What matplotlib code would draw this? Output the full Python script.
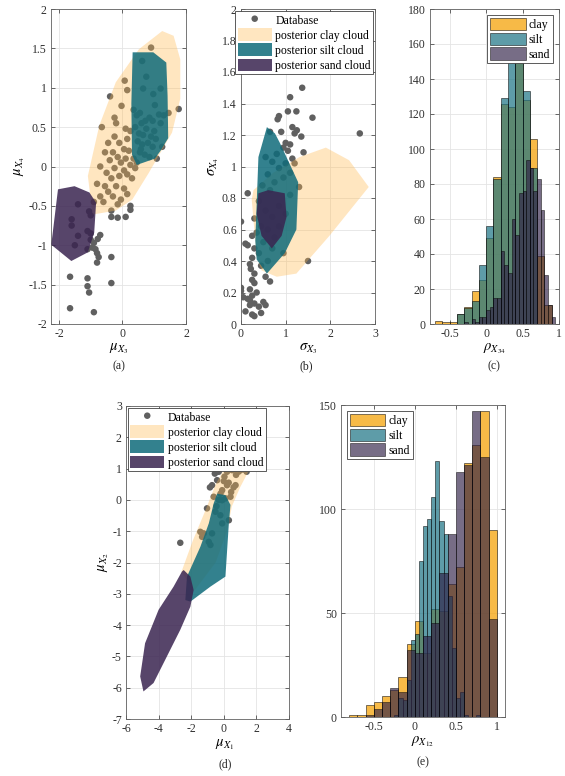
import numpy as np
import matplotlib
matplotlib.use('Agg')
import matplotlib.pyplot as plt

plt.rcParams['font.family'] = 'serif'
plt.rcParams['font.serif'] = ['Liberation Serif', 'DejaVu Serif']
plt.rcParams['mathtext.fontset'] = 'stix'
plt.rcParams['font.size'] = 8

# ---- panel (a): mu_X3 vs mu_X4 ----
a_db_x = [0.90, 0.62, 0.75, 0.65, 1.20, 0.97, 1.02, 0.35, 0.55, 0.45, 1.15, 1.30, 0.85, 0.95, 1.20,
          0.60, 0.40, 0.75, 0.52, 0.65, 0.90, 1.05, 0.48, 0.62, 0.80, 0.95, 1.25, 0.55, 0.70, 0.85,
          1.08, 0.45, 1.00, 0.58, 0.72, 1.77, 1.45,
          0.07, 0.15, -0.39, -0.03, -0.25, -0.65, -0.20, 0.10, 0.25, -0.25, 0.15, -0.10, 0.05, -0.30,
          0.20, -0.55, -0.15, 0.10, -0.40, -0.05, 0.25, -0.70, -0.25, 0.05, -0.50, 0.15, -0.10, -0.35,
          0.30, -0.80, -0.55, -0.20, 0.05, -0.45, 0.15, -0.70, -0.30, -0.05, -0.60, -0.15, -0.90, 0.40,
          0.35, -0.45,
          -0.35, -0.35, -0.15, 0.10, 0.25, 0.25, -1.40, -1.05, -1.00, -1.60, -1.60, -1.10, -1.00, -1.40,
          -0.70, -0.78, -1.00, -0.90, -1.50, -0.95, -0.85, -1.10, -0.80, -0.75, -0.35, -0.80, -1.65,
          -1.10, -1.10, -1.05, -0.35, -1.65, -0.90]
a_db_y = [1.51, 1.34, 1.14, 0.99, 0.99, 0.92, 0.78, 0.72, 0.68, 0.65, 0.66, 0.65, 0.62, 0.58, 0.55,
          0.55, 0.50, 0.48, 0.42, 0.40, 0.38, 0.35, 0.32, 0.28, 0.30, 0.25, 0.25, 0.18, 0.15, 0.12,
          0.10, 0.05, 0.45, 0.22, 0.58, 0.73, 0.68,
          1.09, 0.97, 0.89, 0.77, 0.62, 0.50, 0.55, 0.48, 0.45, 0.38, 0.35, 0.30, 0.22, 0.18,
          0.20, 0.18, 0.12, 0.10, 0.08, 0.05, 0.02, 0.00, -0.02, -0.05, -0.08, -0.10, -0.12, -0.15,
          -0.15, -0.22, -0.25, -0.25, -0.28, -0.32, -0.35, -0.38, -0.38, -0.42, -0.45, -0.48, -0.45, -0.02,
          0.10, 0.30,
          -0.56, -0.64, -0.65, -0.64, -0.55, -0.50, -0.48, -0.57, -0.62, -0.67, -0.75, -0.82, -0.85, -0.88,
          -0.87, -0.92, -0.93, -0.97, -1.00, -1.03, -1.05, -1.05, -1.10, -1.15, -1.15, -1.22, -1.40,
          -1.42, -1.52, -1.60, -1.48, -1.80, -1.85]
a_clay = [(-0.94, -0.61), (-1.09, -0.12), (-0.73, 0.52), (-0.21, 1.07), (0.52, 1.49), (1.25, 1.72),
          (1.61, 1.66), (1.82, 1.36), (1.82, 0.86), (1.56, 0.43), (0.83, -0.08), (0.31, -0.42), (-0.21, -0.56)]
a_silt = [(0.32, 1.45), (0.97, 1.45), (1.38, 1.32), (1.42, 0.90), (1.44, 0.36), (1.20, 0.20),
          (1.02, 0.10), (0.45, 0.02), (0.30, 0.15), (0.28, 0.80)]
a_sand = [(-2.03, -0.29), (-1.51, -0.25), (-1.04, -0.33), (-0.83, -0.46), (-0.89, -0.84), (-1.09, -1.09),
          (-1.61, -1.20), (-2.19, -1.01), (-2.24, -0.99)]

# ---- panel (b): sigma_X3 vs sigma_X4 ----
b_db_x = [1.37, 1.10, 1.24, 0.85, 0.82, 1.60, 2.66, 0.65, 1.15, 1.25, 1.35, 1.20, 0.90, 1.00, 1.10,
          0.95, 1.05, 1.40, 0.80, 1.15, 0.55, 0.70, 1.00, 1.20, 0.85, 1.10, 0.60, 0.95, 1.30, 0.75,
          0.48, 0.15, 0.65, 1.10, 0.40, 0.85, 0.55, 1.00, 0.70, 0.30, 0.45, 0.85, 0.00, 0.60, 0.35,
          0.75, 0.25, 0.50, 0.10, 0.15, 0.30, 0.70, 0.95, 0.40, 1.50, 0.25, 0.20, 0.60, 0.45, 0.22,
          0.30, 0.55, 0.25, 0.30, 0.65, 0.20, 0.00, 0.00, 0.05, 0.15, 0.25, 0.20, 0.30, 0.40, 0.50,
          0.55, 0.10, 0.25, 0.30, 0.45, 0.20, 0.35, 1.05]
b_db_y = [1.50, 1.44, 1.35, 1.32, 1.30, 1.31, 1.21, 1.22, 1.25, 1.23, 1.19, 1.21, 1.22, 1.15, 1.14,
          1.12, 1.10, 1.09, 1.08, 1.05, 1.06, 1.03, 1.02, 1.02, 0.99, 0.96, 0.95, 0.93, 0.87, 0.90,
          0.88, 0.83, 0.85, 0.82, 0.78, 0.75, 0.72, 0.70, 0.68, 0.67, 0.62, 0.62, 0.65, 0.60, 0.58,
          0.55, 0.56, 0.52, 0.51, 0.50, 0.48, 0.48, 0.45, 0.45, 0.40, 0.42, 0.38, 0.40, 0.37, 0.35,
          0.32, 0.30, 0.28, 0.26, 0.27, 0.22, 0.23, 0.21, 0.17, 0.16, 0.18, 0.15, 0.13, 0.11, 0.14,
          0.12, 0.08, 0.06, 0.05, 0.07, 0.12, 0.20, 1.35]
b_clay = [(0.24, 0.79), (0.35, 0.43), (0.46, 0.34), (0.80, 0.30), (1.24, 0.32), (1.98, 0.56), (2.86, 0.87),
          (2.42, 1.04), (1.90, 1.12), (1.31, 1.06), (0.72, 0.96), (0.28, 0.85)]
b_silt = [(0.58, 1.25), (0.76, 1.21), (0.87, 1.15), (1.28, 0.90), (1.24, 0.60), (0.98, 0.45), (0.58, 0.32),
          (0.35, 0.41), (0.32, 0.53), (0.39, 1.06)]
b_sand = [(0.39, 0.83), (0.61, 0.85), (0.98, 0.83), (1.02, 0.68), (0.91, 0.56), (0.69, 0.48), (0.46, 0.56),
          (0.35, 0.70)]

# ---- panel (c): histogram of rho_X34 ----
c_wide_edges = [-0.7, -0.6, -0.5, -0.4, -0.3, -0.2, -0.1, 0.0, 0.1, 0.2, 0.3, 0.4, 0.5, 0.6, 0.7, 0.8, 0.9]
c_clay = [2, 1, 1, 6, 10, 19, 25, 49, 84, 126, 124, 170, 128, 106, 39, 11]
c_silt = [0, 0, 0, 6, 9, 13, 34, 56, 83, 129, 152, 160, 133, 89, 0, 0]
c_sand_start, c_sand_step = -0.3, 0.05
c_sand = [1, 0, 3, 1, 4, 4, 8, 10, 15, 15, 42, 34, 29, 60, 51, 75, 76, 94, 89, 76, 83, 65, 28, 11, 4]

# ---- panel (d): mu_X1 vs mu_X2 ----
d_db_x = [2.40, -2.67, -0.55, -0.31, -0.72, -0.41, 0.04, 0.20, -0.10, -0.62, -0.10, -1.03, -0.51, -0.21,
          0.31, -0.10, -1.44, -0.72, -0.92, -0.82, 1.03, 1.33, 0.51, 0.72, 0.41, -1.23, -1.33, 0.30,
          0.60, -0.20, 0.10, 0.90, 1.20, 1.40, -0.30, 0.00, -0.15, 0.20, -0.45, 0.45, 0.75, -0.85]
d_db_y = [1.63, -1.37, 0.84, 0.90, 0.47, 0.63, 0.74, 0.47, 0.31, 0.10, -0.01, -0.27, -0.38, -0.49,
          -0.65, -0.75, -1.02, -1.07, -1.34, -1.44, 0.95, 0.95, 0.95, 0.47, 0.10, -1.07, -1.18, 0.55,
          0.40, 0.20, 0.05, 0.90, 1.00, 0.90, 0.00, 0.60, 1.20, 0.90, -0.20, 0.25, 0.80, 0.40]
d_clay = [(-2.6, -2.3), (-1.9, -1.3), (-1.1, -0.3), (-0.5, 0.5), (0.1, 1.05), (0.8, 1.3), (1.35, 1.2),
          (1.55, 0.95), (1.0, 0.4), (0.5, -0.2), (0.2, -1.0), (-0.5, -2.0), (-1.8, -2.9)]
d_silt = [(-0.41, 0.20), (0.10, 0.15), (0.41, -0.16), (0.31, -0.75), (0.10, -2.45), (-0.82, -2.77),
          (-2.05, -3.25), (-2.36, -3.20), (-2.26, -2.45), (-1.44, -1.50), (-0.92, -0.75), (-0.62, -0.11)]
d_sand = [(-2.46, -2.24), (-2.05, -2.45), (-1.85, -2.88), (-2.05, -3.41), (-2.67, -4.15), (-3.49, -5.0),
          (-4.31, -5.85), (-4.93, -6.12), (-5.13, -5.64), (-4.83, -4.58), (-4.0, -3.51), (-3.08, -2.77),
          (-2.57, -2.29)]

# ---- panel (e): histogram of rho_X12 ----
e_wide_edges = [-0.8, -0.7, -0.6, -0.5, -0.4, -0.3, -0.2, -0.1, 0.0, 0.1, 0.2, 0.3, 0.4, 0.5, 0.6,
                0.7, 0.8, 0.9, 1.0]
e_clay = [1, 1, 6, 7, 10, 13, 19, 35, 46, 31, 52, 51, 64, 72, 122, 131, 147, 90]
e_sand = [0, 0, 1, 4, 7, 14, 12, 32, 31, 39, 45, 69, 88, 118, 121, 147, 125, 47]
e_silt_start, e_silt_step = -0.25, 0.05
e_silt = [1, 9, 8, 18, 37, 40, 75, 92, 95, 106, 123, 94, 88, 58, 33, 9, 12, 1, 0, 0, 1, 0]

# colours
db_col = '#606060'
cloud_clay, cloud_silt, cloud_sand = '#FFB84D', '#0F6B7A', '#3A2450'
h_clay, h_silt, h_sand = '#F5A000', '#1A7384', '#2E1F45'
axcol = '#303030'

W, H = 565, 776
fig = plt.figure(figsize=(W / 100, H / 100), dpi=100)


def px_axes(l, t, r, b):
    return fig.add_axes([l / W, 1 - b / H, (r - l) / W, (b - t) / H])


def style(ax):
    ax.grid(True, color='#e4e4e4', linewidth=0.6)
    ax.set_axisbelow(True)
    ax.tick_params(direction='in', top=True, right=True, length=3, width=0.5,
                   colors=axcol, labelsize=8.5, pad=3)
    for s in ax.spines.values():
        s.set_color('#606060')
        s.set_linewidth(0.6)


def clouds(ax, db_x, db_y, clay, silt, sand):
    ax.scatter(db_x, db_y, s=22, color=db_col, edgecolors='none', label='Database', zorder=2)
    ax.fill(*zip(*clay), color=cloud_clay, alpha=0.35, lw=0, label='posterior clay cloud', zorder=3)
    ax.fill(*zip(*silt), color=cloud_silt, alpha=0.85, lw=0, label='posterior silt cloud', zorder=4)
    ax.fill(*zip(*sand), color=cloud_sand, alpha=0.85, lw=0, label='posterior sand cloud', zorder=5)


def cloud_legend(ax, loc):
    lg = ax.legend(loc=loc, fontsize=8.5, frameon=True, fancybox=False, framealpha=1,
                   edgecolor='#404040', borderpad=0.2, labelspacing=0.15, handlelength=2.9,
                   handleheight=1.3, handletextpad=0.3, borderaxespad=0.15)
    lg.get_frame().set_linewidth(0.6)
    lg.set_zorder(10)


def hists(ax, clay_edges, clay, silt_edges, silt, sand_edges, sand):
    kw = dict(histtype='bar', rwidth=1.0, edgecolor=(0, 0, 0, 0.6), linewidth=0.5)
    ax.hist(clay_edges[:-1], bins=clay_edges, weights=clay, color=h_clay, alpha=0.72, label='clay', **kw)
    ax.hist(silt_edges[:-1], bins=silt_edges, weights=silt, color=h_silt, alpha=0.7, label='silt', **kw)
    ax.hist(sand_edges[:-1], bins=sand_edges, weights=sand, color=h_sand, alpha=0.65, label='sand', **kw)


def hist_legend(ax, loc):
    lg = ax.legend(loc=loc, fontsize=8.5, frameon=True, fancybox=False, framealpha=1,
                   edgecolor='#404040', borderpad=0.25, labelspacing=0.15, handlelength=3.0,
                   handleheight=1.2, handletextpad=0.25, borderaxespad=0.5)
    lg.get_frame().set_linewidth(0.6)


# (a)
ax = px_axes(51, 9, 186, 324)
clouds(ax, a_db_x, a_db_y, a_clay, a_silt, a_sand)
ax.set_xlim(-2.25, 2)
ax.set_ylim(-2, 2)
ax.set_xticks([-2, 0, 2])
ax.set_yticks(np.arange(-2, 2.01, 0.5))
ax.set_yticklabels(['-2', '-1.5', '-1', '-0.5', '0', '0.5', '1', '1.5', '2'])
ax.set_xticklabels(['-2', '0', '2'])
ax.set_xlabel(r'$\mu_{X_3}$', fontsize=10.5, labelpad=1)
ax.set_ylabel(r'$\mu_{X_4}$', fontsize=10.5, labelpad=1)
style(ax)

# (b)
ax = px_axes(241, 9, 375, 324)
clouds(ax, b_db_x, b_db_y, b_clay, b_silt, b_sand)
ax.set_xlim(0, 3)
ax.set_ylim(0, 2)
ax.set_xticks([0, 1, 2, 3])
ax.set_yticks(np.arange(0, 2.01, 0.2))
ax.set_yticklabels(['0', '0.2', '0.4', '0.6', '0.8', '1', '1.2', '1.4', '1.6', '1.8', '2'])
ax.set_xlabel(r'$\sigma_{X_3}$', fontsize=10.5, labelpad=1)
ax.set_ylabel(r'$\sigma_{X_4}$', fontsize=10.5, labelpad=1)
style(ax)
cloud_legend(ax, 'upper right')

# (c)
ax = px_axes(430, 9, 559, 324)
c_sand_edges = c_sand_start + c_sand_step * np.arange(len(c_sand) + 1)
hists(ax, np.array(c_wide_edges), c_clay, np.array(c_wide_edges), c_silt, c_sand_edges, c_sand)
ax.set_xlim(-0.77, 1.0)
ax.set_ylim(0, 180)
ax.set_xticks([-0.5, 0, 0.5, 1])
ax.set_xticklabels(['-0.5', '0', '0.5', '1'])
ax.set_yticks(np.arange(0, 181, 20))
ax.set_xlabel(r'$\rho_{X_{34}}$', fontsize=10.5, labelpad=1)
style(ax)
hist_legend(ax, 'upper right')

# (d)
ax = px_axes(126, 406, 289, 719)
clouds(ax, d_db_x, d_db_y, d_clay, d_silt, d_sand)
ax.set_xlim(-6, 4)
ax.set_ylim(-7, 3)
ax.set_xticks(np.arange(-6, 4.1, 2))
ax.set_xticklabels(['-6', '-4', '-2', '0', '2', '4'])
ax.set_yticks(np.arange(-7, 3.1, 1))
ax.set_yticklabels([str(v) for v in range(-7, 4)])
ax.set_xlabel(r'$\mu_{X_1}$', fontsize=10.5, labelpad=1)
ax.xaxis.set_label_coords(0.607, -0.058)
ax.set_ylabel(r'$\mu_{X_2}$', fontsize=10.5, labelpad=1)
style(ax)
cloud_legend(ax, 'upper left')

# (e)
ax = px_axes(341, 405, 505, 717)
e_silt_edges = e_silt_start + e_silt_step * np.arange(len(e_silt) + 1)
e_we = np.array(e_wide_edges)
hists(ax, e_we, e_clay, e_silt_edges, e_silt, e_we, e_sand)
ax.set_xlim(-0.9, 1.1)
ax.set_ylim(0, 150)
ax.set_xticks([-0.5, 0, 0.5, 1])
ax.set_xticklabels(['-0.5', '0', '0.5', '1'])
ax.set_yticks([0, 50, 100, 150])
ax.set_xlabel(r'$\rho_{X_{12}}$', fontsize=10.5, labelpad=1)
style(ax)
hist_legend(ax, 'upper left')

# panel letters
for x, y, t in [(119, 366, '(a)'), (306, 366, '(b)'), (494, 366, '(c)'),
                (225, 764, '(d)'), (423, 762, '(e)')]:
    fig.text(x / W, 1 - y / H, t, ha='center', va='center', fontsize=8.5, color='#262626')

fig.savefig('out.png', dpi=100)
